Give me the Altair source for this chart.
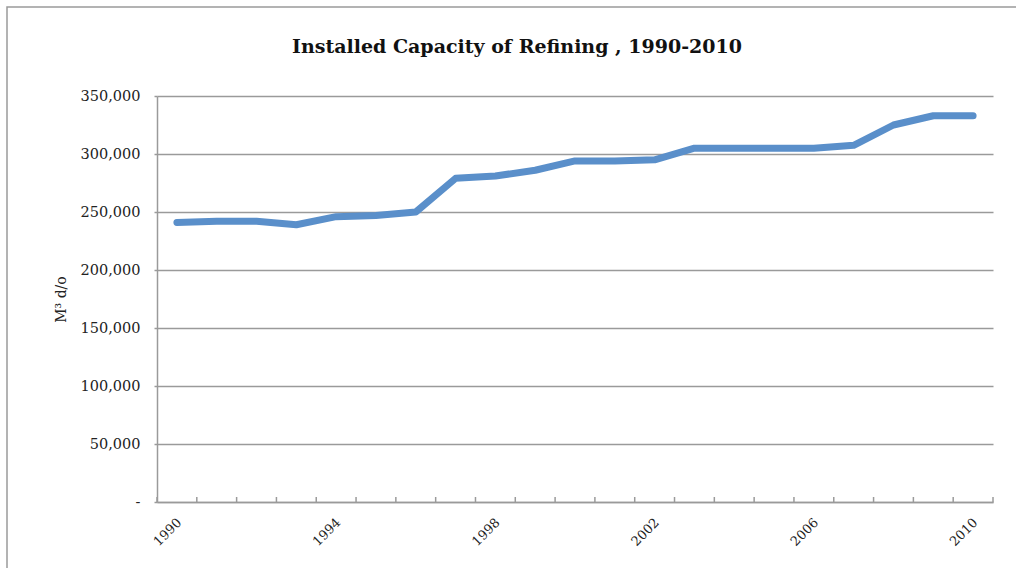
import altair as alt
import pandas as pd

# Installed refining capacity, cubic metres per day
title_text = "Installed Capacity of Refining , 1990-2010"
years = list(range(1990, 2011))
capacity = [241000, 242000, 242000, 239000, 246000, 247000, 250000,
            279000, 281000, 286000, 294000, 294000, 295000, 305000,
            305000, 305000, 305000, 307500, 325000, 333000, 333000]
label_years = [1990, 1994, 1998, 2002, 2006, 2010]
y_ticks = [0, 50000, 100000, 150000, 200000, 250000, 300000, 350000]

df = pd.DataFrame({"year": years, "capacity": capacity})
# category boundaries for the inward tick marks on the year axis
bounds = pd.DataFrame({"b": [y - 0.5 for y in years] + [years[-1] + 0.5]})

W, H = 836, 406
FONT = "DejaVu Serif"
GRAY = "#9a9a9a"

x_scale = alt.Scale(domain=[years[0] - 0.5, years[-1] + 0.5], nice=False, zero=False)

line = alt.Chart(df).mark_line(
    color="#5a8fca", strokeWidth=7, strokeCap="round", strokeJoin="round"
).encode(
    x=alt.X("year:Q", scale=x_scale, title=None,
            axis=alt.Axis(values=label_years, format="d", labelAngle=-45,
                          labelAlign="right", labelBaseline="middle",
                          labelPadding=18, labelOffset=2,
                          ticks=False, grid=False, domainColor=GRAY,
                          domainWidth=1.5, labelFont=FONT, labelFontSize=13,
                          labelColor="#222")),
    y=alt.Y("capacity:Q", scale=alt.Scale(domain=[0, 350000], nice=False),
            title="M³ d/o",
            axis=alt.Axis(values=y_ticks, format=",d",
                          labelExpr="datum.value == 0 ? '-   ' : datum.label",
                          tickSize=3, tickColor=GRAY, tickWidth=1.5,
                          gridColor=GRAY, gridWidth=1.5, domainColor=GRAY,
                          domainWidth=1.5, labelPadding=14, labelFont=FONT,
                          labelFontSize=14.5, labelColor="#222",
                          titleFont=FONT, titleFontSize=14,
                          titleFontWeight="normal", titleColor="#222",
                          titlePadding=12)),
)

ticks = alt.Chart(bounds).mark_rule(color=GRAY, strokeWidth=1.5).encode(
    x=alt.X("b:Q", scale=x_scale),
    y=alt.value(H - 5),
    y2=alt.value(H),
)

# outer chart border
frame = alt.Chart(alt.Data(values=[{}])).mark_rect(
    fill=None, stroke=GRAY, strokeWidth=1.5, clip=False
).encode(
    x=alt.value(-150), x2=alt.value(880),
    y=alt.value(-89), y2=alt.value(490),
)

# chart heading, centred on the outer border
heading = alt.Chart(alt.Data(values=[{"t": title_text}])).mark_text(
    font=FONT, fontSize=19, fontWeight="bold", color="#111",
    align="center", baseline="alphabetic", clip=False
).encode(
    text="t:N", x=alt.value(360), y=alt.value(-43),
)

chart = alt.layer(frame, ticks, line, heading).properties(
    width=W, height=H,
    autosize=alt.AutoSizeParams(type="none"),
    padding={"left": 157, "top": 96, "right": 23, "bottom": 66},
).configure_view(stroke=None)

chart.save("out.html", embed_options={"renderer": "svg", "actions": False})
